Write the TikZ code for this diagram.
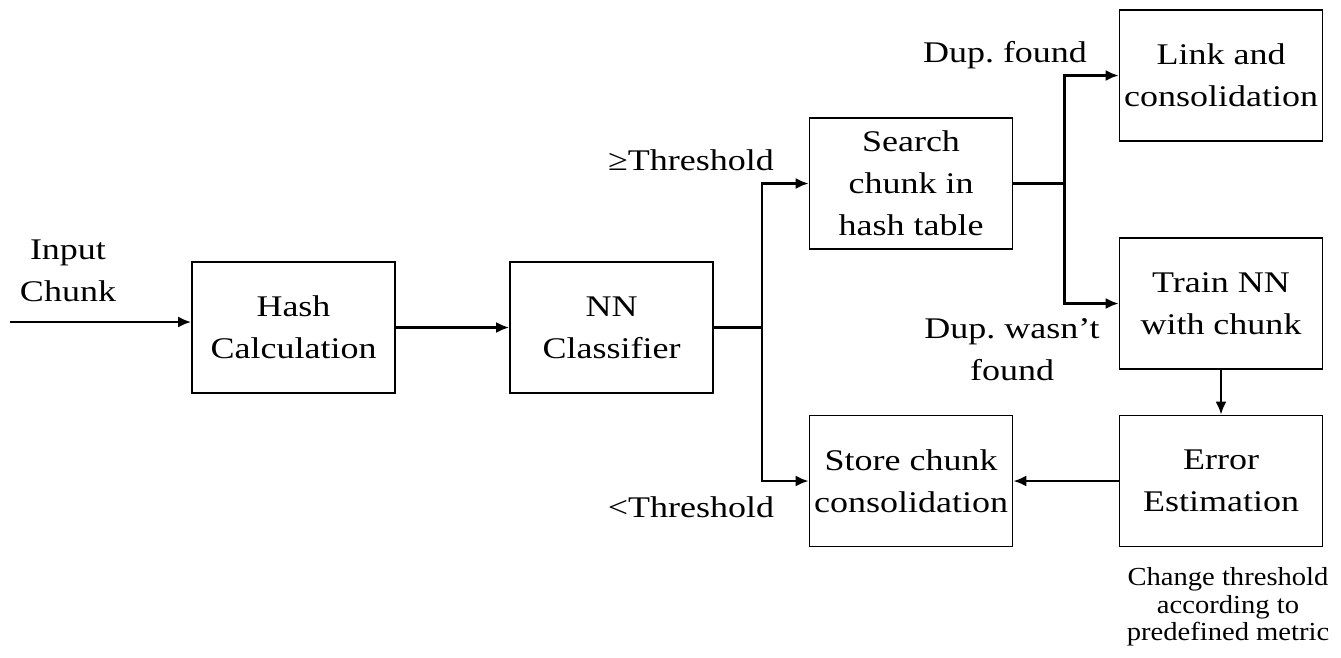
\documentclass[tikz,border=0pt]{standalone}
\usepackage{fontspec}
\setmainfont{Liberation Serif}[FakeStretch=1.2]
\newfontfamily\notefont{Liberation Serif}[FakeStretch=1.1]
\usetikzlibrary{positioning, arrows.meta, calc}

\tikzset{
    block/.style={draw, line width=1.6pt, minimum width=203pt, minimum height=131pt,
        inner sep=0pt, align=center, font=\fontsize{30}{42}\selectfont},
    lbl/.style={align=center, inner sep=0pt, font=\fontsize{30}{42}\selectfont},
    note/.style={align=center, inner sep=0pt, font=\notefont\fontsize{26}{27.5}\selectfont},
}

\begin{document}
\frenchspacing
\begin{tikzpicture}[x=1pt, y=-1pt, on grid, line width=2.6pt, >={Latex[length=13pt,width=11pt]}]
        \useasboundingbox (0,0) rectangle (1341,657);

        \node[block] (hash) at (293.5,327.5) {Hash\\Calculation};
        \node[block] (nn) [right=318pt of hash] {NN\\Classifier};
        \node[block] (store) [below right=153.5pt and 299.5pt of nn] {Store chunk\\consolidation};
        \node[block] (search) [above=297.5pt of store] {Search\\chunk in\\hash table};
        \node[block] (err) [right=310pt of store] {Error\\Estimation};
        \node[block] (train) [above=177.5pt of err] {Train NN\\with chunk};
        \node[block] (link) [above=228pt of train] {Link and\\consolidation};

        % labels
        \node[lbl] (inlbl) at (68,271) {Input\\Chunk};
        \node[lbl] (ge) at (691,160) {≥Threshold};
        \node[lbl] (lt) at (691,507) {<Threshold};
        \node[lbl] (dupf) at (1005,55) {Dup. found};
        \node[lbl] (dupn) at (1012,350) {Dup. wasn’t\\found};
        \node[note] (change) at (1228,607) {Change threshold\\according to\\predefined metric};

        \coordinate (in) at (10,322);
        \coordinate (split1) at ($(nn.east)+(48,0)$);
        \coordinate (split2) at ($(search.east)+(51,0)$);

        \draw[->] (in) -- (in -| hash.west);
        \draw[->] (hash) -- (nn);
        \draw (nn.east) -- (split1);
        \draw[->] (split1) |- (search.west);
        \draw[->] (split1) |- (store.west);
        \draw (search.east) -- (split2);
        \draw[->] (split2) |- (link.west);
        \draw[->] (split2) |- (train.west);
        \draw[->] (train) -- (err);
        \draw[->] (err) -- (store);
    \end{tikzpicture}
\end{document}
